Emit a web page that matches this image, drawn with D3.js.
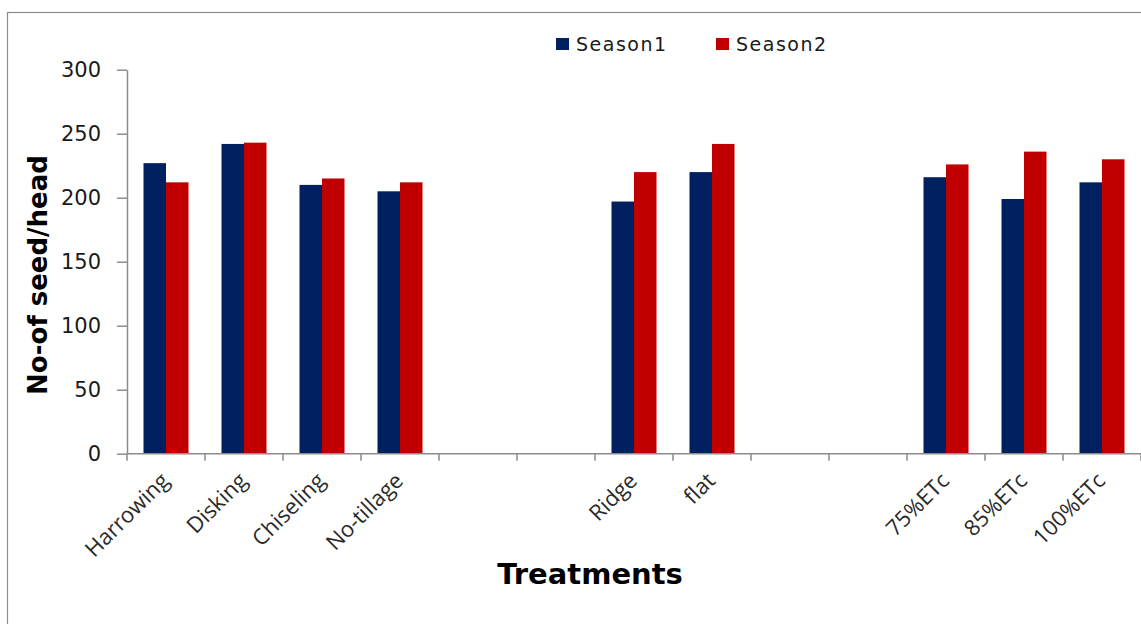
<!DOCTYPE html>
<html>
<head>
<meta charset="utf-8">
<script src="https://cdn.jsdelivr.net/npm/d3@7"></script>
<style>
  html, body { margin: 0; padding: 0; background: #fff; }
  svg { display: block; }
</style>
</head>
<body>
<svg id="chart" width="1141" height="624"></svg>
<script>
// Treatment categories (empty slots separate the three treatment groups)
const categories = ["Harrowing", "Disking", "Chiseling", "No-tillage", "", "", "Ridge", "flat", "", "", "75%ETc", "85%ETc", "100%ETc"];
const seriesNames = ["Season1", "Season2"];
const season1 = [227, 242, 210, 205, null, null, 197, 220, null, null, 216, 199, 212];
const season2 = [212, 243, 215, 212, null, null, 220, 242, null, null, 226, 236, 230];
const yTicks = [0, 50, 100, 150, 200, 250, 300];
const colors = ["#002060", "#C00000"];

const svg = d3.select("#chart");
const W = 1141, H = 624;
const plot = { left: 127, right: 1141, top: 69.7, bottom: 453.7 };

// Chart-area border
svg.append("rect")
  .attr("x", 7.5).attr("y", 12.5)
  .attr("width", W + 20).attr("height", H + 20)
  .attr("fill", "none").attr("stroke", "#8c8c8c").attr("stroke-width", 1.2);

const x = d3.scaleBand().domain(d3.range(categories.length)).range([plot.left, plot.right]).padding(0);
const xs = d3.scaleBand().domain(seriesNames).range([16.5, x.bandwidth() - 16.5]).padding(0);
const y = d3.scaleLinear().domain([0, 300]).range([plot.bottom, plot.top]);

// Bars
const rows = categories.map((c, i) => ({ i, vals: [season1[i], season2[i]] }));
const groups = svg.append("g").selectAll("g").data(rows).join("g")
  .attr("transform", d => `translate(${x(d.i)},0)`);
groups.selectAll("rect")
  .data(d => d.vals.map((v, k) => ({ v, k })).filter(e => e.v != null))
  .join("rect")
  .attr("x", e => xs(seriesNames[e.k]))
  .attr("width", xs.bandwidth())
  .attr("y", e => y(e.v))
  .attr("height", e => y(0) - y(e.v))
  .attr("fill", e => colors[e.k]);

// Y axis
const yAxis = svg.append("g")
  .attr("transform", `translate(${plot.left},0)`)
  .call(d3.axisLeft(y).tickValues(yTicks).tickSize(10).tickPadding(16).tickSizeOuter(0));
yAxis.select(".domain").attr("stroke", "#8c8c8c").attr("stroke-width", 1.5);
yAxis.selectAll(".tick line").attr("stroke", "#8c8c8c").attr("stroke-width", 1.5);
yAxis.selectAll(".tick text")
  .attr("font-family", "DejaVu Sans").attr("font-size", 21).attr("fill", "#1a1a1a");

// X axis: tick marks on slot boundaries
const bounds = d3.range(categories.length + 1).map(i => plot.left + i * x.bandwidth());
const xAxisG = svg.append("g");
xAxisG.append("line")
  .attr("x1", plot.left).attr("x2", plot.right)
  .attr("y1", y(0)).attr("y2", y(0))
  .attr("stroke", "#8c8c8c").attr("stroke-width", 1.5);
xAxisG.selectAll("line.tk").data(bounds).join("line").attr("class", "tk")
  .attr("x1", d => d).attr("x2", d => d)
  .attr("y1", y(0)).attr("y2", y(0) + 7)
  .attr("stroke", "#8c8c8c").attr("stroke-width", 1.5);

// Rotated category labels
xAxisG.selectAll("text").data(rows.filter(d => categories[d.i] !== "")).join("text")
  .attr("transform", d => `translate(${x(d.i) + x.bandwidth() / 2 - 1},${y(0) + 23}) rotate(-45)`)
  .attr("text-anchor", "end")
  .attr("dy", "0.35em")
  .attr("font-family", "Open Sans").attr("font-size", 22).attr("fill", "#2a2a2a")
  .text(d => categories[d.i]);

// Axis titles
svg.append("text")
  .attr("transform", "translate(47,275) rotate(-90)")
  .attr("text-anchor", "middle")
  .attr("font-family", "DejaVu Sans").attr("font-weight", "bold").attr("font-size", 26)
  .attr("fill", "#000")
  .text("No-of seed/head");
svg.append("text")
  .attr("x", 590).attr("y", 584)
  .attr("text-anchor", "middle")
  .attr("font-family", "DejaVu Sans").attr("font-weight", "bold").attr("font-size", 29)
  .attr("fill", "#000")
  .text("Treatments");

// Legend
const legend = svg.append("g");
const legendX = [556, 716];
seriesNames.forEach((name, k) => {
  legend.append("rect")
    .attr("x", legendX[k]).attr("y", 38)
    .attr("width", 13).attr("height", 12)
    .attr("fill", colors[k]);
  legend.append("text")
    .attr("x", legendX[k] + 20).attr("y", 44)
    .attr("dy", "0.35em")
    .attr("font-family", "DejaVu Sans").attr("font-size", 19)
    .attr("letter-spacing", 1.5)
    .attr("fill", "#1a1a1a")
    .text(name);
});
</script>
</body>
</html>
